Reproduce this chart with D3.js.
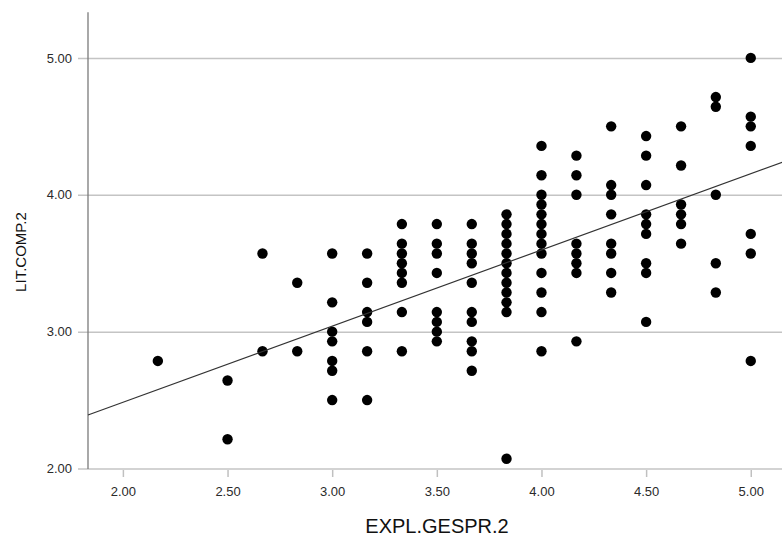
<!DOCTYPE html>
<html>
<head>
<meta charset="utf-8">
<script src="https://cdn.jsdelivr.net/npm/d3@7"></script>
<style>
  body { margin: 0; background: #fff; }
  svg { display: block; font-family: "Liberation Sans", Arial, sans-serif; }
  .grid line { stroke: #c4c4c4; stroke-width: 1.5; }
  .tick text { fill: #2a2a2a; font-size: 13px; }
</style>
</head>
<body>
<svg width="782" height="537"></svg>
<script>
// EXPL.GESPR.2 levels (x) and the LIT.COMP.2 values seen at each level (y)
var explLevels = [2.167, 2.5, 2.667, 2.833, 3.0, 3.167, 3.333, 3.5, 3.667, 3.833, 4.0, 4.167, 4.333, 4.5, 4.667, 4.833, 5.0];
var litComp = [
	[2.786],
	[2.643, 2.214],
	[3.571, 2.857],
	[3.357, 2.857],
	[3.571, 3.214, 3.0, 2.929, 2.786, 2.714, 2.5],
	[3.571, 3.357, 3.143, 3.071, 2.857, 2.5],
	[3.786, 3.643, 3.571, 3.5, 3.429, 3.357, 3.143, 2.857],
	[3.786, 3.643, 3.571, 3.429, 3.143, 3.071, 3.0, 2.929],
	[3.786, 3.643, 3.571, 3.5, 3.357, 3.143, 3.071, 2.929, 2.857, 2.714],
	[3.857, 3.786, 3.714, 3.643, 3.571, 3.5, 3.429, 3.357, 3.286, 3.214, 3.143, 2.071],
	[4.357, 4.143, 4.0, 3.929, 3.857, 3.786, 3.714, 3.643, 3.571, 3.429, 3.286, 3.143, 2.857],
	[4.286, 4.143, 4.0, 3.643, 3.571, 3.5, 3.429, 2.929],
	[4.5, 4.071, 4.0, 3.857, 3.643, 3.571, 3.429, 3.286],
	[4.429, 4.286, 4.071, 3.857, 3.786, 3.714, 3.5, 3.429, 3.071],
	[4.5, 4.214, 3.929, 3.857, 3.786, 3.643],
	[4.714, 4.643, 4.0, 3.5, 3.286],
	[5.0, 4.571, 4.5, 4.357, 3.714, 3.571, 2.786]
];
var xTicks = [2.0, 2.5, 3.0, 3.5, 4.0, 4.5, 5.0];
var yTicks = [2.0, 3.0, 4.0, 5.0];
// fit line
var fitIntercept = 1.370,
	fitSlope = 0.5567;

var svg = d3.select("svg"),
	plotLeft = 88,
	plotTop = 12.3,
	plotBottom = 468.5,
	radius = 5.2;

var x = d3.scaleLinear().domain([1.8333, 5.1667]).range([plotLeft, plotLeft + 3.3333 * 209.3]);
var y = d3.scaleLinear().domain([2, 5.3333]).range([plotBottom, plotTop]);

var points = [];
explLevels.forEach(function (lv, i) {
	litComp[i].forEach(function (v) { points.push({x: lv, y: v}); });
});

// horizontal grid lines, drawn as y ticks that run across the plot
var yAxis = svg.append("g")
	.attr("class", "grid")
	.attr("transform", "translate(" + plotLeft + ",0)")
	.call(d3.axisLeft(y).tickValues(yTicks).tickFormat(d3.format(".2f"))
		.tickSize(-(782 - plotLeft)).tickSizeOuter(0).tickPadding(16));
yAxis.select(".domain").remove();
yAxis.selectAll(".tick line").attr("x1", -10).attr("stroke", "#c4c4c4");
yAxis.selectAll(".tick").filter(function (d) { return d === 2; }).select("line")
	.attr("stroke", "#a8a8a8");

// x axis with short ticks below the base line
var xAxis = svg.append("g")
	.attr("transform", "translate(0," + (plotBottom + 1.5) + ")")
	.call(d3.axisBottom(x).tickValues(xTicks).tickFormat(d3.format(".2f"))
		.tickSize(7).tickSizeOuter(0).tickPadding(10));
xAxis.select(".domain").remove();
xAxis.selectAll(".tick line").attr("stroke", "#c0c0c0").attr("stroke-width", 1.5);

// left axis line
svg.append("line")
	.attr("x1", plotLeft).attr("x2", plotLeft)
	.attr("y1", plotTop).attr("y2", plotBottom + 0.5)
	.attr("stroke", "#7a7a7a")
	.attr("stroke-width", 1.3);

svg.append("g")
	.selectAll("circle")
	.data(points)
	.enter()
	.append("circle")
	.attr("cx", function (d) { return x(d.x); })
	.attr("cy", function (d) { return y(d.y); })
	.attr("r", radius)
	.attr("fill", "#000");

var x0 = x.domain()[0], x1 = x.domain()[1];
svg.append("line")
	.attr("x1", x(x0)).attr("y1", y(fitIntercept + fitSlope * x0))
	.attr("x2", x(x1)).attr("y2", y(fitIntercept + fitSlope * x1))
	.attr("stroke", "#333")
	.attr("stroke-width", 1.2);

svg.append("text")
	.attr("x", 437)
	.attr("y", 533)
	.attr("text-anchor", "middle")
	.style("font-size", "20px")
	.attr("fill", "#111")
	.text("EXPL.GESPR.2");

svg.append("text")
	.attr("transform", "translate(26,252) rotate(-90)")
	.attr("text-anchor", "middle")
	.style("font-size", "15px")
	.attr("fill", "#111")
	.text("LIT.COMP.2");
</script>
</body>
</html>
